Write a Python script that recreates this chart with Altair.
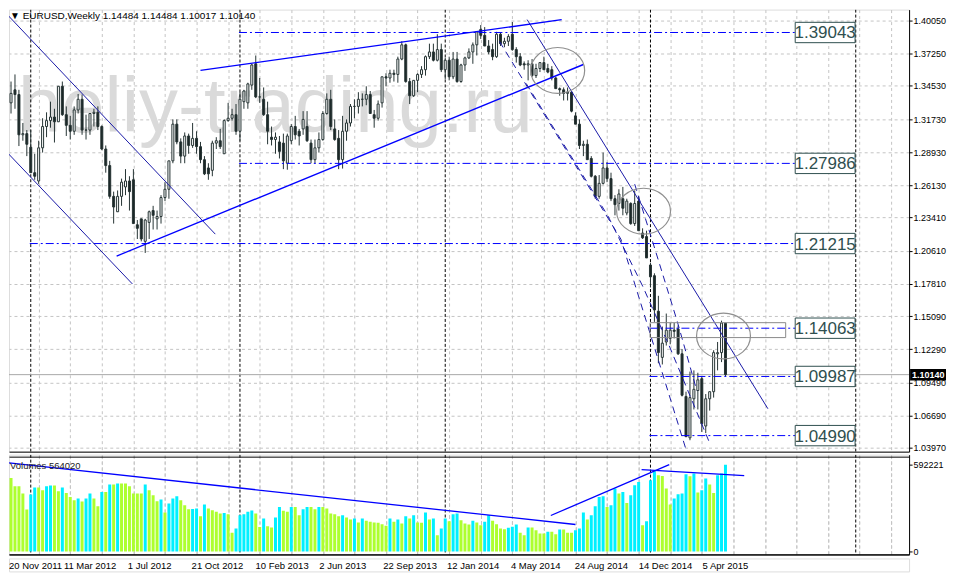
import altair as alt
import pandas as pd

# ---------------- data (weekly EURUSD candles, bar 0 = week of 20 Nov 2011) ----------------
opens = [1.3520,1.3310,1.3420,1.3380,1.3040,1.3050,1.2935,1.2720,1.2650,1.2930,
         1.3110,1.3160,1.3190,1.3150,1.3450,1.3210,1.3120,1.3070,1.3250,1.3340,
         1.3080,1.3080,1.3220,1.3230,1.3110,1.2920,1.2780,1.2520,1.2390,1.2520,
         1.2600,1.2650,1.2660,1.2280,1.2330,1.2140,1.2300,1.2400,1.2330,1.2350,
         1.2510,1.2580,1.2820,1.3130,1.2980,1.2860,1.3030,1.2950,1.3010,1.2940,
         1.2830,1.2760,1.2740,1.2970,1.2990,1.2880,1.3160,1.3180,1.3210,1.3070,
         1.3320,1.3310,1.3460,1.3640,1.3360,1.3340,1.3210,1.3020,1.3000,1.2980,
         1.2970,1.2800,1.2990,1.3110,1.3070,1.3090,1.3110,1.2970,1.2830,1.2930,
         1.3000,1.3220,1.3340,1.3090,1.3010,1.2830,1.3070,1.3140,1.3280,1.3280,
         1.3340,1.3340,1.3380,1.3210,1.3180,1.3310,1.3530,1.3520,1.3560,1.3550,
         1.3680,1.3800,1.3490,1.3370,1.3500,1.3550,1.3590,1.3700,1.3740,1.3670,
         1.3760,1.3590,1.3670,1.3530,1.3680,1.3490,1.3630,1.3690,1.3740,1.3800,
         1.3930,1.3880,1.3790,1.3760,1.3700,1.3890,1.3810,1.3830,1.3890,1.3760,
         1.3700,1.3640,1.3630,1.3640,1.3540,1.3600,1.3650,1.3600,1.3590,1.3520,
         1.3430,1.3420,1.3390,1.3400,1.3200,1.3130,1.2950,1.2960,1.2840,1.2690,
         1.2520,1.2630,1.2760,1.2670,1.2500,1.2460,1.2500,1.2380,1.2460,1.2290,
         1.2480,1.2210,1.2180,1.1940,1.1850,1.1550,1.1160,1.1290,1.1320,1.1390,
         1.1400,1.1190,1.0830,1.0480,1.0810,1.0880,1.0980,1.0580,1.0810,1.0870,
         1.1190,1.1200,1.14484]
highs = [1.3550,1.3490,1.3550,1.3420,1.3140,1.3080,1.3080,1.2880,1.2990,1.3180,
         1.3230,1.3320,1.3260,1.3450,1.3490,1.3280,1.3200,1.3280,1.3385,1.3380,
         1.3210,1.3220,1.3260,1.3280,1.3120,1.2950,1.2820,1.2560,1.2570,1.2670,
         1.2750,1.2690,1.2750,1.2320,1.2330,1.2330,1.2400,1.2440,1.2400,1.2530,
         1.2640,1.2820,1.3170,1.3170,1.3010,1.3060,1.3050,1.3140,1.3070,1.2980,
         1.2860,1.2800,1.2990,1.3020,1.3090,1.3170,1.3310,1.3260,1.3300,1.3400,
         1.3420,1.3480,1.3640,1.3710,1.3520,1.3440,1.3320,1.3110,1.3060,1.3030,
         1.3050,1.3050,1.3130,1.3200,1.3090,1.3240,1.3240,1.3000,1.3000,1.3060,
         1.3240,1.3390,1.3420,1.3170,1.3080,1.3200,1.3170,1.3300,1.3340,1.3400,
         1.3390,1.3450,1.3410,1.3250,1.3330,1.3530,1.3560,1.3590,1.3590,1.3700,
         1.3830,1.3810,1.3520,1.3500,1.3560,1.3620,1.3710,1.3810,1.3810,1.3890,
         1.3810,1.3690,1.3700,1.3740,1.3740,1.3640,1.3700,1.3770,1.3820,1.3915,
         1.3967,1.3950,1.3840,1.3810,1.3910,1.3900,1.3860,1.3890,1.3993,1.3780,
         1.3730,1.3660,1.3670,1.3680,1.3640,1.3650,1.3700,1.3640,1.3620,1.3530,
         1.3440,1.3440,1.3440,1.3400,1.3230,1.3170,1.2990,1.3000,1.2860,1.2700,
         1.2700,1.2890,1.2810,1.2720,1.2530,1.2580,1.2600,1.2500,1.2470,1.2570,
         1.2520,1.2250,1.2230,1.1960,1.1870,1.1680,1.1420,1.1530,1.1450,1.1450,
         1.1430,1.1230,1.0870,1.1040,1.1050,1.1030,1.1000,1.0850,1.0870,1.1220,
         1.1290,1.1470,1.14484]
lows = [1.3210,1.3220,1.3260,1.2945,1.2990,1.2860,1.2720,1.2660,1.2625,1.2890,
        1.3020,1.3100,1.2975,1.3150,1.3200,1.3030,1.3000,1.3040,1.3220,1.3040,
        1.3000,1.3040,1.3110,1.3080,1.2910,1.2720,1.2500,1.2290,1.2390,1.2440,
        1.2530,1.2400,1.2290,1.2160,1.2140,1.2042,1.2160,1.2240,1.2240,1.2290,
        1.2480,1.2500,1.2800,1.2960,1.2800,1.2800,1.2880,1.2930,1.2880,1.2800,
        1.2700,1.2660,1.2690,1.2920,1.2920,1.2880,1.3150,1.3160,1.3040,1.2990,
        1.3260,1.3260,1.3420,1.3350,1.3310,1.3200,1.2960,1.2950,1.2880,1.2840,
        1.2750,1.2745,1.2960,1.3000,1.2950,1.3040,1.2980,1.2800,1.2800,1.2890,
        1.2990,1.3210,1.3080,1.2990,1.2750,1.2755,1.2990,1.3110,1.3180,1.3220,
        1.3280,1.3290,1.3220,1.3100,1.3160,1.3270,1.3450,1.3480,1.3490,1.3480,
        1.3670,1.3480,1.3300,1.3360,1.3400,1.3520,1.3540,1.3680,1.3660,1.3660,
        1.3570,1.3510,1.3500,1.3510,1.3480,1.3480,1.3580,1.3680,1.3640,1.3710,
        1.3850,1.3790,1.3720,1.3670,1.3690,1.3790,1.3780,1.3790,1.3750,1.3650,
        1.3620,1.3590,1.3500,1.3530,1.3520,1.3570,1.3590,1.3560,1.3500,1.3430,
        1.3370,1.3330,1.3330,1.3230,1.3130,1.2920,1.2860,1.2830,1.2680,1.2500,
        1.2500,1.2620,1.2640,1.2480,1.2360,1.2400,1.2360,1.2360,1.2280,1.2270,
        1.2230,1.2160,1.2000,1.1750,1.1460,1.1110,1.1100,1.1260,1.1270,1.1320,
        1.1180,1.0830,1.0490,1.0460,1.0720,1.0720,1.0530,1.0520,1.0710,1.0820,
        1.1050,1.1120,1.10017]
closes = [1.3240,1.3390,1.3380,1.3040,1.3050,1.2960,1.2720,1.2690,1.2930,1.3110,
          1.3160,1.3190,1.3150,1.3450,1.3210,1.3120,1.3070,1.3250,1.3340,1.3080,
          1.3080,1.3220,1.3230,1.3110,1.2920,1.2780,1.2520,1.2430,1.2520,1.2640,
          1.2650,1.2560,1.2290,1.2250,1.2160,1.2320,1.2390,1.2360,1.2350,1.2510,
          1.2580,1.2820,1.3130,1.2980,1.2860,1.3030,1.2950,1.3010,1.2940,1.2830,
          1.2710,1.2710,1.2970,1.2990,1.2940,1.3160,1.3180,1.3210,1.3070,1.3340,
          1.3410,1.3470,1.3630,1.3360,1.3360,1.3210,1.3070,1.3000,1.3020,1.2900,
          1.2820,1.3030,1.3110,1.3040,1.3030,1.3170,1.2990,1.2830,1.2930,1.3000,
          1.3220,1.3340,1.3110,1.3000,1.2830,1.3070,1.3140,1.3280,1.3280,1.3340,
          1.3340,1.3380,1.3220,1.3180,1.3300,1.3530,1.3520,1.3560,1.3550,1.3680,
          1.3800,1.3490,1.3370,1.3500,1.3550,1.3590,1.3700,1.3740,1.3670,1.3760,
          1.3590,1.3670,1.3530,1.3680,1.3490,1.3630,1.3690,1.3740,1.3800,1.3910,
          1.3880,1.3790,1.3740,1.3700,1.3890,1.3810,1.3830,1.3870,1.3760,1.3700,
          1.3630,1.3630,1.3640,1.3540,1.3600,1.3650,1.3590,1.3570,1.3520,1.3430,
          1.3420,1.3390,1.3400,1.3240,1.3130,1.2950,1.2960,1.2830,1.2690,1.2520,
          1.2630,1.2760,1.2670,1.2500,1.2450,1.2540,1.2420,1.2480,1.2290,1.2460,
          1.2230,1.2170,1.2000,1.1840,1.1560,1.1200,1.1280,1.1390,1.1390,1.1380,
          1.1190,1.0840,1.0490,1.0820,1.0890,1.0970,1.0600,1.0810,1.0870,1.1200,
          1.1200,1.1450,1.10140]
volumes = [501000,501000,445000,445000,395000,286000,388000,436000,436000,417000,
           445000,449000,449000,411000,436000,399000,372000,349000,361000,340000,
           361000,395000,361000,309000,406000,406000,456000,456000,463000,463000,
           463000,445000,395000,395000,395000,456000,417000,383000,343000,354000,
           265000,327000,361000,377000,349000,315000,288000,290000,293000,240000,
           320000,293000,281000,270000,259000,263000,254000,127000,157000,247000,
           254000,270000,279000,259000,166000,225000,172000,163000,231000,304000,
           277000,270000,304000,304000,247000,288000,304000,304000,288000,304000,
           304000,293000,259000,254000,240000,247000,231000,218000,225000,197000,
           225000,209000,202000,197000,195000,186000,175000,225000,202000,218000,
           191000,240000,225000,247000,197000,195000,265000,218000,225000,111000,
           157000,225000,206000,254000,259000,213000,191000,184000,209000,197000,
           179000,202000,247000,209000,186000,157000,152000,161000,168000,184000,
           127000,111000,163000,163000,145000,123000,123000,134000,134000,118000,
           150000,150000,127000,127000,145000,157000,265000,218000,247000,309000,
           372000,377000,304000,315000,429000,395000,406000,331000,383000,452000,
           474000,179000,206000,486000,547000,520000,515000,429000,320000,361000,
           390000,395000,526000,513000,531000,402000,417000,497000,456000,399000,
           520000,531000,592221]

date_label_bars = [0, 16, 32, 48, 64, 80, 96, 112, 128, 144, 160, 176]
date_labels = ["20 Nov 2011", "11 Mar 2012", "1 Jul 2012", "21 Oct 2012", "10 Feb 2013",
               "2 Jun 2013", "22 Sep 2013", "12 Jan 2014", "4 May 2014", "24 Aug 2014",
               "14 Dec 2014", "5 Apr 2015"]
price_ticks = [1.40050, 1.37250, 1.34530, 1.31730, 1.28930, 1.26130, 1.23410, 1.20610,
               1.17810, 1.15090, 1.12290, 1.09490, 1.06690, 1.03970]
grid_bars = [8, 16, 24, 32, 40, 48, 56, 64, 72, 80, 88, 96, 104, 112, 120, 128, 136, 144,
             152, 160, 168, 176, 184, 192, 200, 208, 216, 224]
separator_bars = [6, 59, 111, 163, 215]

level_prices = [1.39043, 1.27986, 1.21215, 1.14063, 1.09987, 1.04990]
level_start = [58.75, 58.75, 5.75, 162.75, 162.75, 162.75]
level_end = 199.75
level_label_bar = 207.25

current_price = 1.10140
title_text = "\u25bc EURUSD,Weekly  1.14484 1.14484 1.10017 1.10140"
volume_text = "Volumes 564020"
watermark = "heliy-trading.ru"
watermark_pos = (2.75, 1.3061)

thin_lines = {
    "channel_top": [(-3.0, 1.4163), (52.75, 1.2201)],
    "channel_bottom": [(-3.0, 1.2997), (31.75, 1.1780)],
    "steep": [(131.75, 1.4013), (192.75, 1.0726)],
}
bold_lines = {
    "support": [(27.75, 1.2016), (146.0, 1.3634)],
    "resistance": [(49.0, 1.3584), (140.5, 1.4013)],
}
dashed_lines = {
    "d1": [(124.75, 1.3828), (155.5, 1.2159), (172.25, 1.0355)],
    "d2": [(131.5, 1.3474), (152.25, 1.2353), (161.0, 1.1763), (167.75, 1.1257), (177.75, 1.0456)],
    "d3": [(159.0, 1.2623), (163.5, 1.2142), (169.75, 1.1468), (174.75, 1.0878)],
}
circle_bars = [139.5, 161.25, 181.5]
circle_prices = [1.3584, 1.2395, 1.1341]
box_rect = {"x": 162.9, "x2": 197.25, "y": 1.1453, "y2": 1.1327}

volume_lines = {
    "v1": [(0.5, 603781), (144.0, 183789)],
    "v2": [(137.75, 245052), (167.75, 592209)],
    "v3": [(160.75, 558174), (186.75, 517332)],
}

# ---------------- styling ----------------
W = 902
PRICE_H = 443
VOL_H = 100
STRIP_H = 13
X_MIN = 1.75
DARK = "#263434"
BEAR = "#1b2626"
GRID = "#c4c4c4"
LBL_FONT = "Liberation Sans"

xscale = alt.Scale(domain=[X_MIN, 227.25], nice=False, zero=False)
yscale = alt.Scale(domain=[1.036342, 1.409773], nice=False, zero=False)
vscale = alt.Scale(domain=[-20421, 660279], nice=False, zero=False)

x_axis_price = alt.Axis(orient="bottom", values=grid_bars, labels=False, ticks=False, title=None,
                        grid=True, gridColor=GRID, gridDash=[3, 3], domainColor="black")
y_axis_price = alt.Axis(orient="right", values=price_ticks, format=".5f", title=None, grid=True,
                        gridColor=GRID, gridDash=[3, 3], domainColor="black", tickColor="black",
                        tickSize=3, labelPadding=1, labelFont=LBL_FONT, labelFontSize=9,
                        labelColor="black", labelOverlap=False)


def X(field="bar"):
    return alt.X(f"{field}:Q", scale=xscale, axis=x_axis_price)


def Y(field):
    return alt.Y(f"{field}:Q", scale=yscale, axis=y_axis_price)


candles = pd.DataFrame({"bar": list(range(len(closes))), "open": opens, "high": highs,
                        "low": lows, "close": closes, "volume": volumes})


def lines_df(d):
    rows = []
    for name, pts in d.items():
        for k, (b, p) in enumerate(pts):
            rows.append({"name": name, "k": k, "bar": b, "price": p})
    return pd.DataFrame(rows)


# ---------------- price pane ----------------
wm = alt.Chart(pd.DataFrame({"bar": [watermark_pos[0]], "price": [watermark_pos[1]], "t": [watermark]})).mark_text(
    align="left", baseline="alphabetic", font=LBL_FONT, fontSize=78, color="#dadada", clip=True
).encode(x=X(), y=Y("price"), text="t:N")

seps = alt.Chart(pd.DataFrame({"bar": separator_bars})).mark_rule(
    color="black", strokeDash=[3, 2], strokeWidth=1, clip=True).encode(x=X())

cur_line = alt.Chart(pd.DataFrame({"price": [current_price]})).mark_rule(
    color="#a8a8a8", strokeWidth=1, clip=True).encode(y=Y("price"))

wicks = alt.Chart(candles).mark_rule(color=DARK, strokeWidth=1, clip=True).encode(
    x=X(), y=Y("low"), y2="high:Q")

bodies = alt.Chart(candles).mark_bar(size=2, stroke=DARK, strokeWidth=1, clip=True).encode(
    x=X(), y=Y("open"), y2="close:Q",
    fill=alt.condition(alt.datum.close >= alt.datum.open, alt.value("white"), alt.value(BEAR)))

levels = pd.DataFrame({"price": level_prices, "start": level_start,
                       "end": [level_end] * len(level_prices),
                       "lx": [level_label_bar] * len(level_prices),
                       "label": [f"{p:.5f}" for p in level_prices]})

level_lines = alt.Chart(levels).mark_rule(color="#0000ff", strokeWidth=1, strokeDash=[8, 3, 2, 3],
                                          clip=True).encode(x=X("start"), x2="end:Q", y=Y("price"))

thin = alt.Chart(lines_df(thin_lines)).mark_line(color="#1a1aa8", strokeWidth=1, clip=True).encode(
    x=X(), y=Y("price"), detail="name:N", order="k:Q")
bold = alt.Chart(lines_df(bold_lines)).mark_line(color="#0000ff", strokeWidth=1.4, clip=True).encode(
    x=X(), y=Y("price"), detail="name:N", order="k:Q")
dashed = alt.Chart(lines_df(dashed_lines)).mark_line(color="#1a1aa8", strokeWidth=1, strokeDash=[7, 5],
                                                     clip=True).encode(
    x=X(), y=Y("price"), detail="name:N", order="k:Q")

ellipse = "M-1,0A1,0.85 0 1,0 1,0A1,0.85 0 1,0 -1,0Z"
circles = alt.Chart(pd.DataFrame({"bar": circle_bars, "price": circle_prices})).mark_point(
    shape=ellipse, size=2916, filled=False, stroke="#8f8f8f", strokeWidth=1.2, opacity=1, clip=True
).encode(x=X(), y=Y("price"))

rect = alt.Chart(pd.DataFrame([box_rect])).mark_rect(
    fill=None, fillOpacity=0, stroke="#8a8a8a", strokeWidth=1, clip=True
).encode(x=X("x"), x2="x2:Q", y=Y("y"), y2="y2:Q")

box_shape = "M-1,-0.34H1V0.34H-1Z"
label_boxes = alt.Chart(levels).mark_point(
    shape=box_shape, size=3600, filled=True, fill="white", stroke="#2f4f4f", strokeWidth=1,
    opacity=1, clip=True).encode(x=X("lx"), y=Y("price"))
label_text = alt.Chart(levels).mark_text(
    font=LBL_FONT, fontSize=17, color="#2f4f4f", align="center", baseline="middle", dy=1, clip=True
).encode(x=X("lx"), y=Y("price"), text="label:N")

cur_df = pd.DataFrame({"price": [current_price], "t": [f"{current_price:.5f}"]})
cur_box = alt.Chart(cur_df).mark_point(
    shape="M-1,-0.32H1V0.32H-1Z", size=1296, filled=True, fill="black", opacity=1, strokeWidth=0
).encode(x=alt.value(W + 19), y=Y("price"))
cur_text = alt.Chart(cur_df).mark_text(
    align="left", baseline="middle", font=LBL_FONT, fontSize=9, fontWeight="bold", color="white"
).encode(x=alt.value(W + 3), y=Y("price"), text="t:N")

title = alt.Chart(pd.DataFrame({"t": [title_text]})).mark_text(
    align="left", baseline="top", font=LBL_FONT, fontSize=10, color="black"
).encode(x=alt.value(1), y=alt.value(1), text="t:N")

price = alt.layer(wm, seps, cur_line, wicks, bodies, level_lines, thin, bold, dashed, circles,
                  rect, label_boxes, label_text, cur_box, cur_text, title).properties(
    width=W, height=PRICE_H)

# ---------------- volume pane ----------------
vol_df = candles[["bar", "volume"]].copy()
dirs = []
for i, v in enumerate(volumes):
    dirs.append("up" if i == 0 or v > volumes[i - 1] else "down")
vol_df["dir"] = dirs

x_axis_vol = alt.Axis(orient="bottom", values=grid_bars, labels=False, ticks=False, title=None,
                      grid=True, gridColor=GRID, gridDash=[3, 3], domainColor="black")
x_axis_vol_top = alt.Axis(orient="top", labels=False, ticks=False, title=None, grid=False,
                          domainColor="black", offset=-2)
y_axis_vol = alt.Axis(orient="right", values=[0, 592221], format="d", title=None, grid=False,
                      domainColor="black", tickColor="black", tickSize=3, labelPadding=1,
                      labelFont=LBL_FONT, labelFontSize=9, labelColor="black")

vol_bars = alt.Chart(vol_df).mark_bar(size=3, clip=True).encode(
    x=alt.X("bar:Q", scale=xscale, axis=x_axis_vol),
    y=alt.Y("volume:Q", scale=vscale, axis=y_axis_vol),
    color=alt.Color("dir:N", scale=alt.Scale(domain=["up", "down"], range=["#00f0ff", "#adff2f"]),
                    legend=None))

vol_seps = alt.Chart(pd.DataFrame({"bar": separator_bars})).mark_rule(
    color="black", strokeDash=[3, 2], strokeWidth=1, clip=True).encode(
    x=alt.X("bar:Q", scale=xscale, axis=x_axis_vol))

vrows = []
for name, pts in volume_lines.items():
    for k, (b, v) in enumerate(pts):
        vrows.append({"name": name, "k": k, "bar": b, "volume": v})
vol_trend = alt.Chart(pd.DataFrame(vrows)).mark_line(color="#0000ff", strokeWidth=1.3, clip=True).encode(
    x=alt.X("bar:Q", scale=xscale, axis=x_axis_vol_top),
    y=alt.Y("volume:Q", scale=vscale, axis=y_axis_vol),
    detail="name:N", order="k:Q")

vol_label = alt.Chart(pd.DataFrame({"t": [volume_text]})).mark_text(
    align="left", baseline="middle", font=LBL_FONT, fontSize=9.5, color="#222222"
).encode(x=alt.value(1), y=alt.value(11), text="t:N")

volume = alt.layer(vol_seps, vol_bars, vol_trend, vol_label).properties(width=W, height=VOL_H)

# ---------------- date label strip ----------------
strip = alt.Chart(pd.DataFrame({"bar": date_label_bars, "label": date_labels})).transform_calculate(
    lx=f"max(datum.bar - 0.5, {X_MIN})"
).mark_text(
    align="left", baseline="middle", font=LBL_FONT, fontSize=9.5, color="black", clip=True
).encode(x=alt.X("lx:Q", scale=xscale, axis=None), y=alt.value(8), text="label:N").properties(
    width=W, height=STRIP_H)

chart = alt.vconcat(price, volume, strip, spacing=0).properties(padding=0).configure_view(
    stroke=None).configure(background="white")

chart.save("out.html", embed_options={"renderer": "svg", "actions": False})
